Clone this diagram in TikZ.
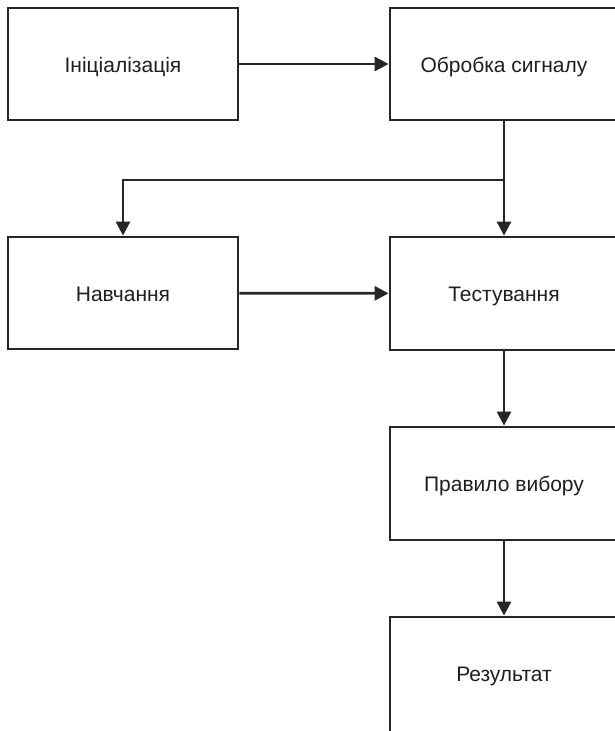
\documentclass[tikz,border=0pt]{standalone}
\usepackage{fontspec}
\setmainfont{Liberation Sans}
\usetikzlibrary{arrows.meta}
\begin{document}
\begin{tikzpicture}[x=1pt,y=-1pt,
  blk/.style={draw=black!85, line width=2.8pt, fill=white, inner sep=0pt, text=black!88, text height=16pt, text depth=0pt, font=\fontsize{21}{25}\selectfont},
  conn/.style={draw=black!85, line width=2.8pt, -{Triangle[length=14pt,width=14pt]}}]
\useasboundingbox (0,0) rectangle (615,731);
\node[blk, minimum width=230pt, minimum height=112pt] (a) at (123,64) {Ініціалізація};
\node[blk, minimum width=228pt, minimum height=112pt] (b) at (504,64) {Обробка сигналу};
\node[blk, minimum width=230pt, minimum height=112pt] (c) at (123,293) {Навчання};
\node[blk, minimum width=228pt, minimum height=113pt] (d) at (504,293.5) {Тестування};
\node[blk, minimum width=228pt, minimum height=113pt] (e) at (504,483.5) {Правило вибору};
\node[blk, minimum width=228pt, minimum height=118pt, text depth=6pt] (f) at (504,676) {Результат};
\coordinate (j) at (504,180);
\draw[conn] (a) -- (b);
\draw[conn] (b) -- (d);
\draw[conn] (j) -| (c);
\draw[conn] (c) -- (d);
\draw[conn] (d) -- (e);
\draw[conn] (e) -- (f);
\end{tikzpicture}
\end{document}
